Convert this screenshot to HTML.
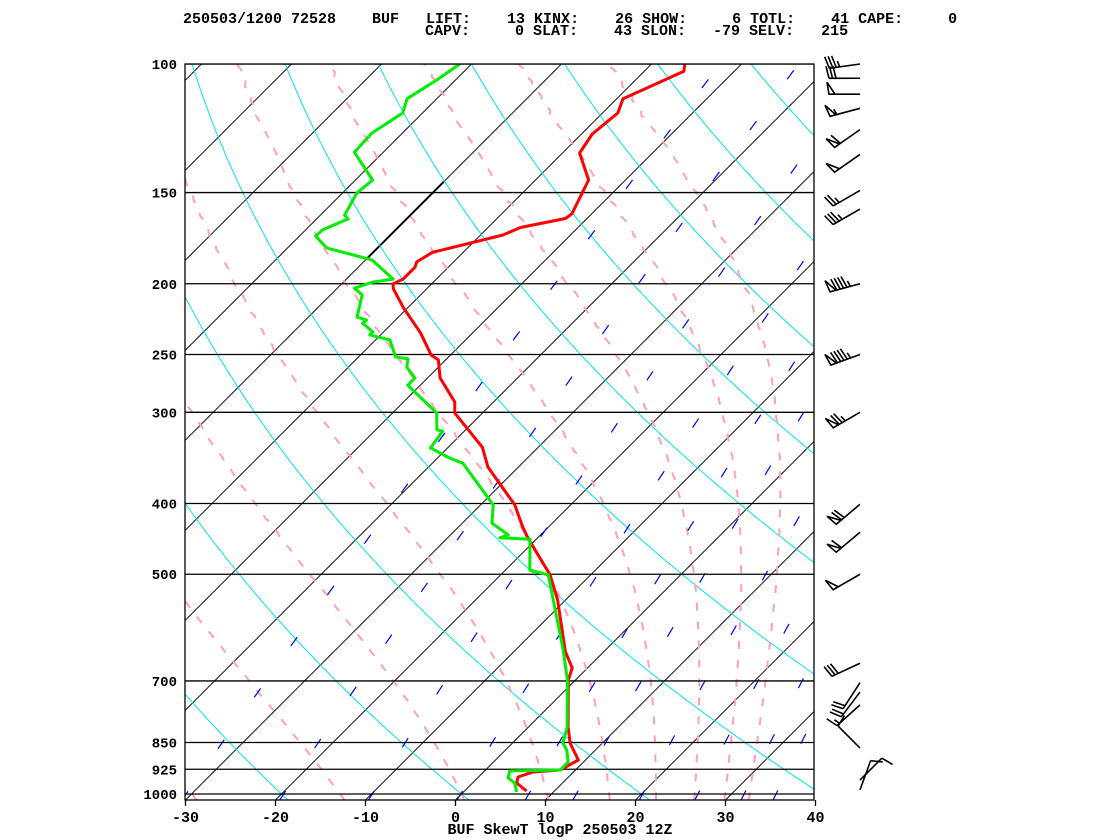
<!DOCTYPE html>
<html><head><meta charset="utf-8"><style>
body{margin:0;background:#fff;width:1120px;height:840px;overflow:hidden}
svg{display:block}
text{font-family:"Liberation Mono",monospace;font-weight:bold;fill:#000}
</style></head><body>
<svg id="chart" width="1120" height="840" viewBox="0 0 1120 840" xmlns="http://www.w3.org/2000/svg">
<defs><clipPath id="plotclip"><rect x="185" y="64" width="629" height="736"/></clipPath></defs>
<g>
<text x="183" y="23" font-size="15" xml:space="preserve">250503/1200 72528    BUF   LIFT:    13 KINX:    26 SHOW:     6 TOTL:    41 CAPE:     0</text>
<text x="425" y="35" font-size="15" xml:space="preserve">CAPV:     0 SLAT:    43 SLON:   -79 SELV:   215</text>
</g>
<g id="bg" clip-path="url(#plotclip)"></g>
<g id="traces" clip-path="url(#plotclip)"></g>
<g id="axes"></g>
<g id="barbs"></g>
<text x="560" y="834" font-size="15" text-anchor="middle">BUF SkewT logP 250503 12Z</text>
</svg>
<script>
// ---- data ----
const pressureLevels=[100,150,200,250,300,400,500,700,850,925,1000];
const tempTicks=[-30,-20,-10,0,10,20,30,40];
const isotherms=[-110,-100,-90,-80,-70,-60,-50,-40,-30,-20,-10,0,10,20,30,40];
const dryThetaC=[-40,-20,0,20,40,60,80,100,120,140,160,180];
const moistStartT=[-30,-13.5,0,9.5,16.4,21.6,25.9,29.3,32];
const mixRatios=[0.3,0.8,1.8,3.8,6.5,9.3,15,22,30,37];
const tempP=[100,102.3,111.6,116.7,124.7,132.4,144.2,160.4,162.8,167.5,171.5,181.1,186.7,189.8,197.1,200,203.2,215.3,233.5,250.6,254.3,269.2,290.4,300.6,335,356.5,401.8,430.5,445.7,501,542,638,672,698,809.6,851.4,898.3,927,933,947.8,965.9,990.6];
const tempT=[-56.3,-55.6,-59.3,-58.3,-58.8,-58.1,-54.1,-52.2,-52.4,-56.4,-57.5,-63.4,-64.1,-63.7,-63.7,-64.3,-63.7,-60.6,-55.8,-52.1,-50.8,-48.6,-44.3,-43.1,-36.2,-33.4,-26.2,-22.9,-21.1,-14.5,-10.9,-4.3,-1.7,-0.8,4.4,6.4,9.2,8.3,5.5,4.4,4.9,6.9];
const dewP=[100,105.2,111.6,116.7,124.4,132.1,144.2,150.3,161.1,163,168.7,172.1,178.7,185.5,197.1,198.9,202.8,207.1,222.2,224.4,226.5,232.8,235,238.8,251.9,253.5,260.2,269.2,275.4,300.6,317,318.4,335.7,346.7,352.2,401.8,425.6,441.6,445.7,447.7,493.3,501,635,698,809.6,851.4,870.4,904,927,930,950.8,965.9,993.7];
const dewT=[-81.3,-82.1,-83.3,-82.2,-83.4,-83.2,-78.1,-78.4,-77.3,-76.5,-78.1,-78.2,-75.6,-69.3,-64.8,-66.7,-68.1,-66.5,-64.6,-63.2,-63.3,-61.2,-61.2,-58.4,-55.9,-54.3,-53.5,-51.4,-51.4,-45.1,-43.2,-42.4,-41.9,-38.6,-36.6,-28.6,-26.7,-23.6,-24.2,-20.7,-17.3,-14.7,-4.7,-0.9,4.3,5.6,6.8,8.3,8.3,2.8,3.4,4.7,5.9];
const barbP=[100,104.6,110,115,123,133,149,158,200,250,300,401,438,500,662,704,725,755,865,957,987];
const barbDir=[262,270,270,255,235,235,240,240,255,250,240,230,230,240,245,213,217,228,315,45,20];
const barbSpd=[35,30,50,55,60,50,25,35,95,95,75,70,60,50,30,20,20,15,10,10,10];

// ---- scales ----
const NS="http://www.w3.org/2000/svg";
function yP(p){return 794-730*Math.log10(1000/p);}
function xT(T,p){return 455.5+9*T+(800-yP(p));}
function mk(tag,attrs,parent){const e=document.createElementNS(NS,tag);for(const k in attrs)e.setAttribute(k,attrs[k]);parent.appendChild(e);return e;}
const pLevelsFine=[];for(let p=1020;p>=99;p*=0.985)pLevelsFine.push(p);pLevelsFine.push(99);
function pathFrom(fn){let d="";pLevelsFine.forEach((p,i)=>{const T=fn(p);d+=(i?"L":"M")+xT(T,p).toFixed(1)+" "+yP(p).toFixed(1);});return d;}
const bg=document.getElementById('bg');
// isotherms
isotherms.forEach(T=>{
 const e=mk('path',{d:pathFrom(()=>T),stroke:'#000','stroke-width':0.9,fill:'none'},bg);
 
 
});
// bold isotherm segment
(function(){const e=mk('line',{x1:xT(-70,185),y1:yP(185),x2:xT(-70,145),y2:yP(145),stroke:'#000','stroke-width':2},bg);

})();
// dry adiabats
dryThetaC.forEach(th=>{
 const K=th+273.15;
 const e=mk('path',{d:pathFrom(p=>K*Math.pow(p/1000,0.286)-273.15),stroke:'#00e5ee','stroke-width':1,fill:'none'},bg);
 
 
});
// moist adiabats
function es(Tc){return 6.112*Math.exp(17.67*Tc/(Tc+243.5));}
function dTdp(T,p){const Tc=T-273.15;const e=es(Tc);const rs=0.622*e/(p-e);const R=287,cp=1004,L=2.5e6;
 return (R*T+L*rs)/(p*(cp+L*L*rs*0.622/(R*T*T)));}
function moistT(T0){const map=new Map();
 // integrate up from 1000 and down to 1020
 let T=T0+273.15,p=1000;const res={};
 const up=[];let pp=1000,TT=T;
 for(let i=0;i<2000&&pp>98;i++){up.push([pp,TT]);const dp=-1;TT+=dTdp(TT,pp)*dp;pp+=dp;}
 let dn=[];pp=1000;TT=T;for(let i=0;i<25;i++){pp+=1;TT+=dTdp(TT,pp);dn.push([pp,TT]);}
 return function(p){if(p>1000){const k=Math.min(dn.length-1,Math.round(p-1001));return dn[Math.max(0,k)][1]-273.15;}
  const k=Math.min(up.length-1,Math.round(1000-p));return up[k][1]-273.15;};}
moistStartT.forEach(t0=>{
 const f=moistT(t0);
 const e=mk('path',{d:pathFrom(f),stroke:'#ffa0b4','stroke-width':2,'stroke-dasharray':'8 11',fill:'none'},bg);
 
 
});
// mixing ratio lines
function tdFromW(w,p){const e=w*p/(622+w);const l=Math.log(e/6.112);return 243.5*l/(17.67-l);}
mixRatios.forEach(w=>{
 const e=mk('path',{d:pathFrom(p=>tdFromW(w,p)),stroke:'#0000ff','stroke-width':1.2,'stroke-dasharray':'11 52',fill:'none'},bg);
 
 
});
// pressure lines
pressureLevels.forEach(p=>{
 const e=mk('line',{x1:185,x2:814,y1:yP(p),y2:yP(p),stroke:'#000','stroke-width':1.3},bg);
 
 
});
// traces
const tr=document.getElementById('traces');
function trace(P,T,color,name){let d="";P.forEach((p,i)=>{d+=(i?"L":"M")+xT(T[i],p).toFixed(1)+" "+yP(p).toFixed(1);});
 const e=mk('path',{d:d,stroke:color,'stroke-width':3,fill:'none','stroke-linejoin':'round'},tr);
 
 }
trace(tempP,tempT,'#ff0000','temperature-trace');
trace(dewP,dewT,'#00ee00','dewpoint-trace');
// axes
const ax=document.getElementById('axes');
(function(){const e=mk('rect',{x:185,y:64,width:629,height:736,fill:'none',stroke:'#000','stroke-width':1.3},ax);

})();
pressureLevels.forEach(p=>{
 const t=mk('text',{x:177,y:yP(p)+5,'font-size':14,'text-anchor':'end'},ax);t.textContent=String(p);
 
 
});
tempTicks.forEach(T=>{
 const x=455.5+9*T;
 const l=mk('line',{x1:x,x2:x,y1:800,y2:806,stroke:'#000','stroke-width':1.3},ax);
 
 
 const t=mk('text',{x:x,y:822,'font-size':15,'text-anchor':'middle'},ax);t.textContent=String(T);
 
 
});
// wind barbs
const bb=document.getElementById('barbs');
barbP.forEach((p,i)=>{
 const g=mk('g',{},bb);
 
 
 const sx=860,sy=yP(p),L=31,d=barbDir[i]*Math.PI/180;
 const vx=Math.sin(d),vy=-Math.cos(d);
 const ex=sx+L*vx,ey=sy+L*vy;
 const fx=-vy,fy=vx; // feather direction
 let path="M"+sx+" "+sy+"L"+ex.toFixed(1)+" "+ey.toFixed(1);
 let s=Math.round(barbSpd[i]/5)*5,pos=0;
 const flen=12,step=3.5;
 while(s>=50){const ax1=ex-vx*pos,ay1=ey-vy*pos,ax2=ex-vx*(pos+6),ay2=ey-vy*(pos+6);
  path+="M"+ax1+" "+ay1+"L"+(ax1+fx*flen+vx*2)+" "+(ay1+fy*flen+vy*2)+"L"+ax2+" "+ay2+"Z";pos+=7;s-=50;}
 while(s>=10){const bx=ex-vx*pos,by=ey-vy*pos;path+="M"+bx+" "+by+"L"+(bx+fx*flen+vx*3)+" "+(by+fy*flen+vy*3);pos+=step;s-=10;}
 if(s>=5){if(pos===0)pos=step;const bx=ex-vx*pos,by=ey-vy*pos;path+="M"+bx+" "+by+"L"+(bx+fx*6+vx*1.5)+" "+(by+fy*6+vy*1.5);}
 mk('path',{d:path,stroke:'#000','stroke-width':1.6,fill:'none'},g);
});
</script>
</body></html>
